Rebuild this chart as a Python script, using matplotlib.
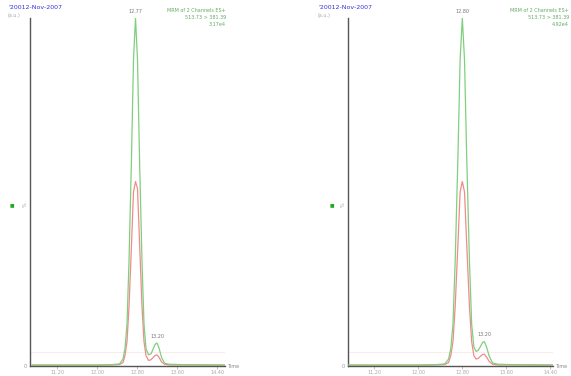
import matplotlib
matplotlib.use("Agg")
import matplotlib.pyplot as plt

# ---- data ----
titles = ["'20012-Nov-2007", "'20012-Nov-2007"]
info_left = ["MRM of 2 Channels ES+", "513.73 > 381.39", "3.17e4"]
info_right = ["MRM of 2 Channels ES+", "513.73 > 381.39", "4.92e4"]
tick_vals = [11.20, 12.00, 12.80, 13.60, 14.40]
tick_labels = ["11.20", "12.00", "12.80", "13.60", "14.40"]

t_left = [10.70, 12.00, 12.30, 12.45, 12.52, 12.56, 12.60, 12.64, 12.69, 12.73,
          12.77, 12.81, 12.85, 12.90, 12.94, 12.98, 13.03, 13.08, 13.12, 13.16,
          13.20, 13.24, 13.29, 13.35, 13.45, 13.70, 14.60]
green_left = [0.3, 0.3, 0.4, 0.6, 2, 5, 12, 30, 60, 88,
              100, 88, 60, 30, 12, 5, 3.2, 3.5, 4.8, 6.2,
              6.6, 5.2, 2.5, 0.8, 0.5, 0.4, 0.3]
red_left = [0.2, 0.2, 0.3, 0.4, 1, 3, 7, 17, 35, 50,
            53, 51, 36, 17, 7, 3, 1.6, 1.8, 2.4, 3.0,
            3.2, 2.5, 1.2, 0.5, 0.3, 0.3, 0.2]

t_right = [10.70, 12.00, 12.33, 12.48, 12.55, 12.59, 12.63, 12.67, 12.72, 12.76,
           12.80, 12.84, 12.88, 12.93, 12.97, 13.01, 13.05, 13.09, 13.13, 13.17,
           13.20, 13.24, 13.29, 13.35, 13.45, 13.70, 14.60]
green_right = [0.3, 0.3, 0.4, 0.6, 2, 5, 12, 30, 60, 88,
               100, 88, 60, 30, 12, 5.5, 4.2, 4.5, 5.6, 6.8,
               7.0, 5.5, 2.8, 0.9, 0.5, 0.4, 0.3]
red_right = [0.2, 0.2, 0.3, 0.4, 1, 3, 7, 17, 35, 50,
             53, 50, 35, 17, 7, 3, 2.0, 2.2, 2.8, 3.3,
             3.4, 2.6, 1.3, 0.5, 0.3, 0.3, 0.2]

peaks_left = [(12.77, "12.77"), (13.20, "13.20")]
peaks_right = [(12.80, "12.80"), (13.20, "13.20")]

GREEN = "#7fcf7f"
RED = "#f28a8a"
BLUE = "#3333dd"

fig = plt.figure(figsize=(5.71, 3.76), dpi=100)

def panel(rect, xlim, t, g, r, peaks, title, info, title_x, info_x, dot_x, zero_x):
    ax = fig.add_axes(rect)
    ax.plot(t, r, color=RED, lw=0.9, zorder=2)
    ax.plot(t, g, color=GREEN, lw=0.9, zorder=3)
    ax.set_xlim(*xlim)
    ax.set_ylim(0, 100)
    for s in ["top", "right"]:
        ax.spines[s].set_visible(False)
    ax.spines["left"].set_color("#555555")
    ax.spines["bottom"].set_color("#555555")
    ax.spines["left"].set_linewidth(1.0)
    ax.spines["bottom"].set_linewidth(1.0)
    ax.set_yticks([])
    ax.set_xticks(tick_vals)
    ax.set_xticklabels(tick_labels, fontsize=3.5, color="#aaaaaa")
    ax.tick_params(axis="x", length=2, width=0.6, color="#e8a0a0", pad=1)
    ax.axhline(4, color="#fbe3e3", lw=0.5, zorder=1)
    for x, lab in peaks:
        yv = max(gv for tv, gv in zip(t, g) if abs(tv - x) < 0.005)
        ax.annotate(lab, (x, yv), xytext=(0, 3), textcoords="offset points",
                    ha="center", va="bottom", fontsize=3.5, color="#777777")
    ax.text(1.01, 0.0, "Time", transform=ax.transAxes, fontsize=3.5,
            color="#888888", ha="left", va="center")
    fig.text(title_x, 1 - 5 / 376, title, fontsize=4.5, color=BLUE,
             ha="left", va="top")
    fig.text(title_x, 1 - 13 / 376, "(a.u.)", fontsize=3.5, color="#aaaaaa",
             ha="left", va="top")
    for i, line in enumerate(info):
        fig.text(info_x, 1 - (8 + 7 * i) / 376, line, fontsize=3.5, color="#66aa66",
                 ha="right", va="top")
    fig.text(dot_x, 1 - 205 / 376, "\u25A0", fontsize=3.5, color="#22aa22",
             ha="center", va="center")
    fig.text(zero_x + 0.5 / 571, 1 - 205 / 376, "%", fontsize=3.5, color="#999999",
             ha="center", va="center", rotation=90)
    fig.text(zero_x, 1 - 366 / 376, "0", fontsize=3.5, color="#999999",
             ha="center", va="center")
    return ax

H = 376.0
W = 571.0
bottom = 1 - 366 / H
top = 1 - 18 / H
panel([30 / W, bottom, (225 - 30) / W, top - bottom], (10.66, 14.56),
      t_left, green_left, red_left, peaks_left, titles[0], info_left,
      8 / W, 226 / W, 12 / W, 25 / W)
panel([348 / W, bottom, (553 - 348) / W, top - bottom], (10.72, 14.45),
      t_right, green_right, red_right, peaks_right, titles[1], info_right,
      318 / W, 569 / W, 332 / W, 343 / W)

fig.savefig("out.png", dpi=100, facecolor="white")
